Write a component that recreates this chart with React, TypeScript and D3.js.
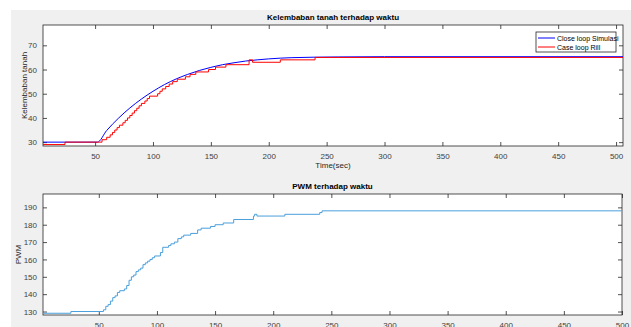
import React, { useEffect, useRef } from 'react';
import * as d3 from 'd3';

// Kelembaban tanah (soil moisture) – simulation vs real
const simTime = [5, 52, 60, 70, 80, 90, 100, 110, 120, 130, 140, 150, 160, 170, 180, 190, 200, 210, 220, 240, 260, 300, 506];
const simValue = [30, 30, 34.8, 39.8, 44.1, 47.8, 51.0, 53.8, 56.1, 58.0, 59.6, 60.9, 62.0, 62.8, 63.5, 64.0, 64.4, 64.7, 64.9, 65.1, 65.2, 65.3, 65.3];

const realTime = [5, 24, 54, 56, 60, 63, 65, 67, 69, 71, 74, 76, 78, 80, 82, 84, 86, 88, 90, 93, 95, 97, 104, 106, 108, 111, 114, 117, 121, 128, 132, 137, 148, 154, 163, 183, 186, 210, 240, 506];
const realValue = [29, 30, 30, 31, 32, 33, 34, 35, 36, 37, 38, 39, 40, 41, 42, 43, 44, 45, 46, 47, 48, 49, 50, 51, 52, 53, 54, 55, 56, 57, 58, 59, 60, 61, 62, 64, 63, 64, 65, 65];

// PWM
const pwmTime = [2, 26, 54, 56, 58, 60, 62, 64, 66, 68, 72, 74, 76, 78, 80, 82, 84, 86, 88, 90, 92, 94, 96, 98, 103, 105, 110, 112, 115, 118, 121, 123, 129, 135, 138, 146, 150, 157, 166, 183, 184, 186, 210, 240, 242, 500];
const pwmValue = [129, 130, 131, 133, 134, 136, 138, 139, 141, 142, 143, 145, 148, 150, 151, 153, 154, 155, 157, 158, 159, 160, 161, 162, 164, 167, 168, 169, 170, 172, 173, 174, 175, 177, 178, 179, 180, 181, 183, 185, 186, 185, 186, 187, 188, 188];

const xTicks = [50, 100, 150, 200, 250, 300, 350, 400, 450, 500];
const moistTicks = [30, 40, 50, 60, 70];
const pwmTicks = [130, 140, 150, 160, 170, 180, 190];

const legendLabels = ['Close loop Simulasi', 'Case loop Rill'];
const legendColors = ['#0000ff', '#ff0000'];

const FONT = '"Liberation Sans", Arial, sans-serif';
const AXIS = '#262626';

export default function App() {
  const svgRef = useRef<SVGSVGElement>(null);

  useEffect(() => {
    if (!svgRef.current) return;
    const root = d3.select(svgRef.current);
    root.selectAll('*').remove();

    // figure background
    root.append('rect').attr('x', 11).attr('y', 10).attr('width', 620).attr('height', 317).attr('fill', '#f0f0f0');

    const drawAxes = (
      left: number, top: number, right: number, bottom: number,
      x: d3.ScaleLinear<number, number>, y: d3.ScaleLinear<number, number>,
      yTicks: number[], title: string, yLabel: string, yLabelX: number, xLabel?: string,
    ) => {
      const g = root.append('g');
      g.append('rect').attr('x', left).attr('y', top).attr('width', right - left).attr('height', bottom - top).attr('fill', '#fff');

      const styleAxis = (sel: d3.Selection<SVGGElement, unknown, null, undefined>) => {
        sel.select('.domain').remove();
        sel.selectAll('line').attr('stroke', AXIS).attr('stroke-width', 0.8);
        sel.selectAll('text').attr('fill', '#404040').style('font-family', FONT).style('font-size', '8px');
      };

      g.append('g').attr('transform', `translate(0,${bottom})`)
        .call(d3.axisBottom(x).tickValues(xTicks).tickSize(-4).tickPadding(7).tickFormat(d3.format('d')))
        .call(styleAxis);
      g.append('g').attr('transform', `translate(0,${top})`)
        .call(d3.axisTop(x).tickValues(xTicks).tickSize(-4).tickFormat(() => ''))
        .call(styleAxis);
      g.append('g').attr('transform', `translate(${left},0)`)
        .call(d3.axisLeft(y).tickValues(yTicks).tickSize(-4).tickPadding(6).tickFormat(d3.format('d')))
        .call(styleAxis);
      g.append('g').attr('transform', `translate(${right},0)`)
        .call(d3.axisRight(y).tickValues(yTicks).tickSize(-4).tickFormat(() => ''))
        .call(styleAxis);

      g.append('rect').attr('x', left).attr('y', top).attr('width', right - left).attr('height', bottom - top)
        .attr('fill', 'none').attr('stroke', AXIS).attr('stroke-width', 0.8);

      g.append('text').attr('x', (left + right) / 2).attr('y', top - 5).attr('text-anchor', 'middle')
        .style('font-family', FONT).style('font-size', '8px').style('font-weight', 'bold').attr('fill', '#000').text(title);

      g.append('text').attr('transform', `translate(${yLabelX},${(top + bottom) / 2}) rotate(-90)`)
        .attr('text-anchor', 'middle').style('font-family', FONT).style('font-size', '8px').attr('fill', '#262626').text(yLabel);

      if (xLabel) {
        g.append('text').attr('x', (left + right) / 2).attr('y', bottom + 22).attr('text-anchor', 'middle')
          .style('font-family', FONT).style('font-size', '8px').attr('fill', '#262626').text(xLabel);
      }
    };

    // ---- top chart ----
    const t = { left: 43, top: 25, right: 623, bottom: 146 };
    const x1 = d3.scaleLinear().domain([5, 506]).range([t.left, t.right]);
    const y1 = d3.scaleLinear().domain([28.4, 78.4]).range([t.bottom, t.top]);
    drawAxes(t.left, t.top, t.right, t.bottom, x1, y1, moistTicks, 'Kelembaban tanah terhadap waktu', 'Kelembaban tanah', 27, 'Time(sec)');

    const simLine = d3.line<number>().x((d) => x1(simTime[d])).y((d) => y1(simValue[d])).curve(d3.curveMonotoneX);
    const realLine = d3.line<number>().x((d) => x1(realTime[d])).y((d) => y1(realValue[d])).curve(d3.curveStepAfter);

    root.append('path').attr('d', simLine(d3.range(simTime.length)))
      .attr('fill', 'none').attr('stroke', legendColors[0]).attr('stroke-width', 1);
    root.append('path').attr('d', realLine(d3.range(realTime.length)))
      .attr('fill', 'none').attr('stroke', legendColors[1]).attr('stroke-width', 1);

    // legend
    const lg = root.append('g').attr('transform', 'translate(536,32)');
    lg.append('rect').attr('width', 80).attr('height', 20).attr('fill', '#fff').attr('stroke', AXIS).attr('stroke-width', 0.8);
    legendLabels.forEach((label, i) => {
      const yy = 6 + i * 9;
      lg.append('line').attr('x1', 2).attr('x2', 19).attr('y1', yy).attr('y2', yy).attr('stroke', legendColors[i]).attr('stroke-width', 1);
      lg.append('text').attr('x', 21).attr('y', yy + 2.5).style('font-family', FONT).style('font-size', '7px').attr('fill', '#000').text(label);
    });

    // ---- bottom chart ----
    const b = { left: 43, top: 194, right: 622, bottom: 315 };
    const x2 = d3.scaleLinear().domain([2, 500]).range([b.left, b.right]);
    const y2 = d3.scaleLinear().domain([128, 197.7]).range([b.bottom, b.top]);
    drawAxes(b.left, b.top, b.right, b.bottom, x2, y2, pwmTicks, 'PWM terhadap waktu', 'PWM', 21);

    const pwmLine = d3.line<number>().x((d) => x2(pwmTime[d])).y((d) => y2(pwmValue[d])).curve(d3.curveStepAfter);
    root.append('path').attr('d', pwmLine(d3.range(pwmTime.length)))
      .attr('fill', 'none').attr('stroke', '#4a9fdb').attr('stroke-width', 1);
  }, []);

  return (
    <svg
      ref={svgRef}
      width={631}
      height={327}
      style={{ position: 'absolute', left: 0, top: 0, background: '#fff' }}
    />
  );
}
